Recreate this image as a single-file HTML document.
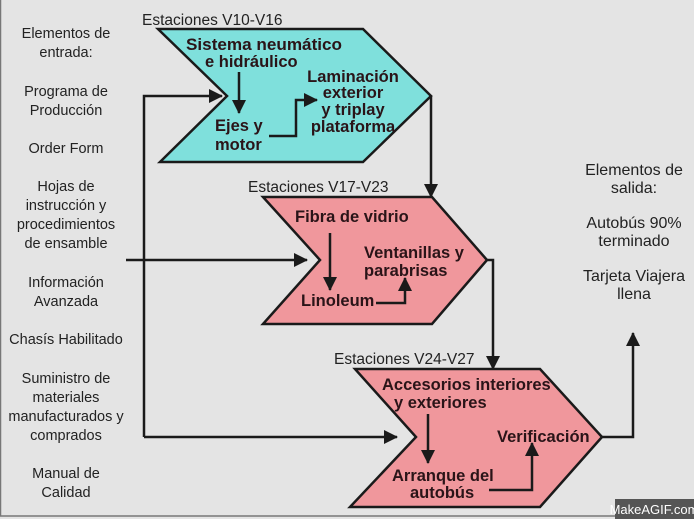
<!DOCTYPE html>
<html><head><meta charset="utf-8"><style>
html,body{margin:0;padding:0;background:#e4e4e4;}
svg{display:block;}
text{font-family:"Liberation Sans",Arial,sans-serif;}
.l{font-size:14.5px;fill:#222;text-anchor:middle;}
.r{font-size:16px;fill:#222;text-anchor:middle;}
.b{font-size:16.5px;font-weight:bold;fill:#2a1418;}
.s{font-size:15.5px;fill:#222;}
</style></head><body>
<svg width="694" height="519" viewBox="0 0 694 519" xmlns="http://www.w3.org/2000/svg">
<defs>
<marker id="c" markerWidth="14" markerHeight="14" refX="13" refY="7" orient="auto" markerUnits="userSpaceOnUse"><path d="M0,0 L14,7 L0,14 z" fill="#1a1a1a"/></marker></defs>
<rect x="0" y="0" width="694" height="519" fill="#e4e4e4"/>
<rect x="0.5" y="-2" width="700" height="518" fill="none" stroke="#777" stroke-width="1.5"/>
<rect x="615" y="499" width="79" height="20" fill="#555"/>
<text x="654" y="514" font-size="13" fill="#fff" text-anchor="middle">MakeAGIF.com</text>

<g class="l">
<text x="66" y="38">Elementos de</text><text x="66" y="57">entrada:</text>
<text x="66" y="96">Programa de</text><text x="66" y="115">Producción</text>
<text x="66" y="153">Order Form</text>
<text x="66" y="191">Hojas de</text><text x="66" y="210">instrucción y</text><text x="66" y="229">procedimientos</text><text x="66" y="248">de ensamble</text>
<text x="66" y="287">Información</text><text x="66" y="306">Avanzada</text>
<text x="66" y="344">Chasís Habilitado</text>
<text x="66" y="383">Suministro de</text><text x="66" y="402">materiales</text><text x="66" y="421">manufacturados y</text><text x="66" y="440">comprados</text>
<text x="66" y="478">Manual de</text><text x="66" y="497">Calidad</text>
</g>
<g class="r">
<text x="634" y="175">Elementos de</text><text x="634" y="193">salida:</text>
<text x="634" y="228">Autobús 90%</text><text x="634" y="246">terminado</text>
<text x="634" y="281">Tarjeta Viajera</text><text x="634" y="299">llena</text>
</g>

<polygon points="158,29 363,29 431,96 363,162 160,162 227,96" fill="#7fe0dc" stroke="#1a1a1a" stroke-width="2.5"/>
<polygon points="263,197 432,197 487,260 432,324 263,324 320,260" fill="#f0979c" stroke="#1a1a1a" stroke-width="2.5"/>
<polygon points="355,369 540,369 602,437 540,507 350,507 416,437" fill="#f0979c" stroke="#1a1a1a" stroke-width="2.5"/>

<text class="s" x="142" y="25">Estaciones V10-V16</text>
<text class="s" x="248" y="192">Estaciones V17-V23</text>
<text class="s" x="334" y="364">Estaciones V24-V27</text>

<g stroke="#1a1a1a" stroke-width="2.5" fill="none">
<polyline points="144,437 144,96 222,96" marker-end="url(#c)"/>
<line x1="144" y1="437" x2="397" y2="437" marker-end="url(#c)"/>
<line x1="126" y1="260" x2="307" y2="260" marker-end="url(#c)"/>
<polyline points="431,96 431,197" marker-end="url(#c)"/>
<polyline points="487,260 493,260 493,369" marker-end="url(#c)"/>
<polyline points="602,437 633,437 633,333" marker-end="url(#c)"/>
<line x1="239" y1="72" x2="239" y2="113" marker-end="url(#c)"/>
<polyline points="269,136 296,136 296,100 317,100" marker-end="url(#c)"/>
<line x1="330" y1="233" x2="330" y2="290" marker-end="url(#c)"/>
<polyline points="376,303 405,303 405,278" marker-end="url(#c)"/>
<line x1="428" y1="414" x2="428" y2="463" marker-end="url(#c)"/>
<polyline points="489,490 532,490 532,443" marker-end="url(#c)"/>
</g>

<g class="b">
<text x="186" y="50" textLength="156" lengthAdjust="spacingAndGlyphs">Sistema neumático</text><text x="205" y="67">e hidráulico</text>
<text x="215" y="131">Ejes y</text><text x="215" y="150">motor</text>
<text x="353" y="82" text-anchor="middle">Laminación</text><text x="353" y="98" text-anchor="middle">exterior</text><text x="353" y="115" text-anchor="middle">y triplay</text><text x="353" y="132" text-anchor="middle">plataforma</text>
<text x="295" y="222">Fibra de vidrio</text>
<text x="364" y="258">Ventanillas y</text><text x="364" y="276">parabrisas</text>
<text x="301" y="306">Linoleum</text>
<text x="382" y="390">Accesorios interiores</text><text x="394" y="408">y exteriores</text>
<text x="497" y="442">Verificación</text>
<text x="392" y="481">Arranque del</text><text x="410" y="498">autobús</text>
</g>
</svg>
</body></html>
